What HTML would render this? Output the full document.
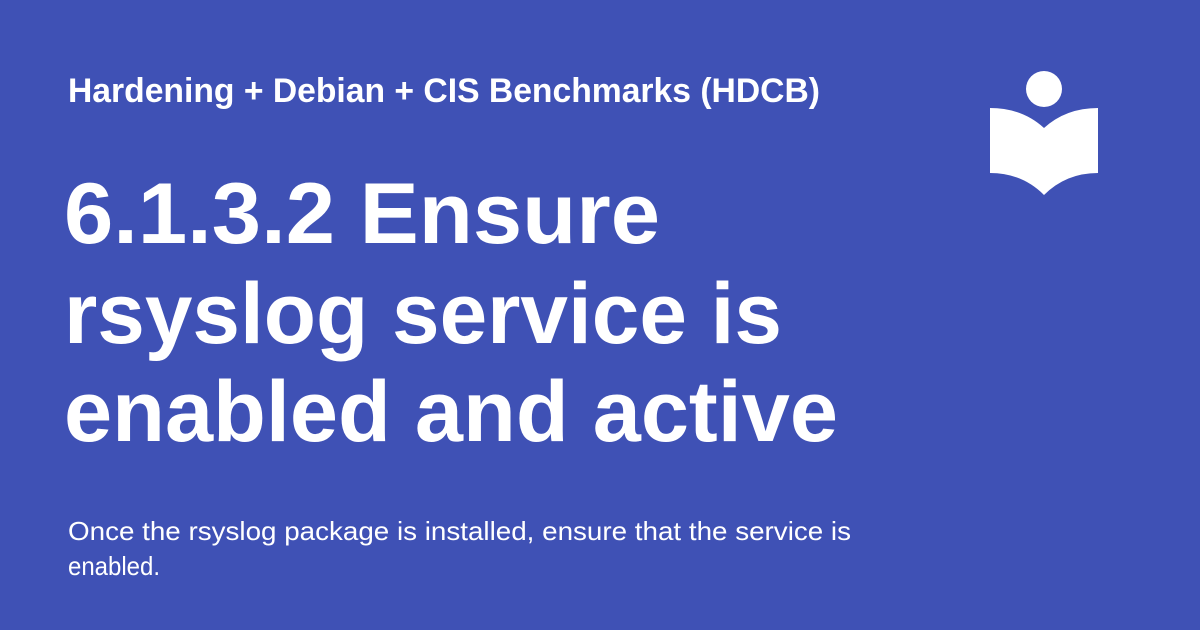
<!DOCTYPE html>
<html><head><meta charset="utf-8"><style>
html,body{margin:0;padding:0;}
body{width:1200px;height:630px;background:#3f51b5;overflow:hidden;}
svg{display:block;}
text{font-family:"Liberation Sans",sans-serif;fill:#fff;}
</style></head><body>
<svg width="1200" height="630" viewBox="0 0 1200 630">
<rect width="1200" height="630" fill="#3f51b5"/>
<text x="68" y="102" font-size="34" font-weight="bold" textLength="752" lengthAdjust="spacingAndGlyphs">Hardening + Debian + CIS Benchmarks (HDCB)</text>
<text x="64" y="243" font-size="86" font-weight="bold" textLength="596" lengthAdjust="spacingAndGlyphs">6.1.3.2 Ensure</text>
<text x="64" y="343" font-size="86" font-weight="bold" textLength="718" lengthAdjust="spacingAndGlyphs">rsyslog service is</text>
<text x="64" y="441" font-size="86" font-weight="bold" textLength="774" lengthAdjust="spacingAndGlyphs">enabled and active</text>
<text x="68" y="540" font-size="26" textLength="783" lengthAdjust="spacingAndGlyphs">Once the rsyslog package is installed, ensure that the service is</text>
<text x="68" y="575" font-size="26" textLength="92" lengthAdjust="spacingAndGlyphs">enabled.</text>
<circle cx="1044" cy="89" r="18" fill="#fff"/>
<path d="M990 108 Q1022 108 1044 128 Q1066 108 1098 108 L1098 173 Q1066 173 1044 195 Q1022 173 990 173 Z" fill="#fff"/>
</svg>
</body></html>
